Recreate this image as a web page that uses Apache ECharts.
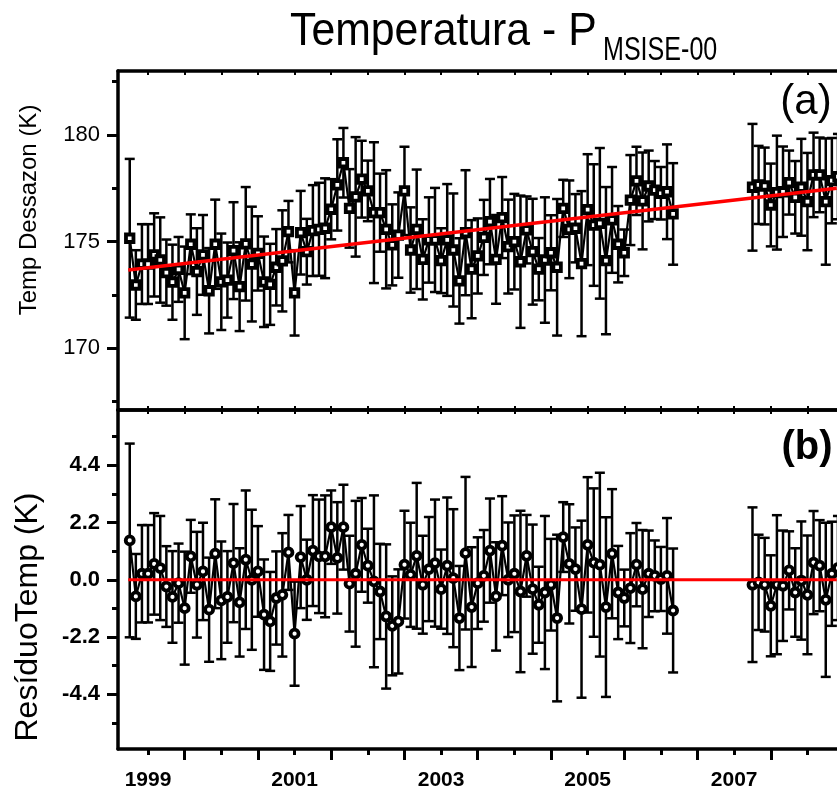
<!DOCTYPE html>
<html>
<head>
<meta charset="utf-8">
<title>Temperatura - P MSISE-00</title>
<script src="https://cdn.jsdelivr.net/npm/echarts@6/dist/echarts.min.js"></script>
<style>
  html, body { margin: 0; padding: 0; background: #fff; }
  #chart { width: 837px; height: 792px; }
</style>
</head>
<body>
<div id="chart"></div>
<script>
// meses com dado (o intervalo abr/2006 - mar/2007 não tem medida)
const months = [
  '1998-10', '1998-11', '1998-12',
  '1999-01', '1999-02', '1999-03', '1999-04', '1999-05', '1999-06', '1999-07', '1999-08', '1999-09', '1999-10', '1999-11', '1999-12',
  '2000-01', '2000-02', '2000-03', '2000-04', '2000-05', '2000-06', '2000-07', '2000-08', '2000-09', '2000-10', '2000-11', '2000-12',
  '2001-01', '2001-02', '2001-03', '2001-04', '2001-05', '2001-06', '2001-07', '2001-08', '2001-09', '2001-10', '2001-11', '2001-12',
  '2002-01', '2002-02', '2002-03', '2002-04', '2002-05', '2002-06', '2002-07', '2002-08', '2002-09', '2002-10', '2002-11', '2002-12',
  '2003-01', '2003-02', '2003-03', '2003-04', '2003-05', '2003-06', '2003-07', '2003-08', '2003-09', '2003-10', '2003-11', '2003-12',
  '2004-01', '2004-02', '2004-03', '2004-04', '2004-05', '2004-06', '2004-07', '2004-08', '2004-09', '2004-10', '2004-11', '2004-12',
  '2005-01', '2005-02', '2005-03', '2005-04', '2005-05', '2005-06', '2005-07', '2005-08', '2005-09', '2005-10', '2005-11', '2005-12',
  '2006-01', '2006-02', '2006-03',
  '2007-04', '2007-05', '2007-06', '2007-07', '2007-08', '2007-09', '2007-10', '2007-11', '2007-12',
  '2008-01', '2008-02', '2008-03', '2008-04', '2008-05', '2008-06'
];

// (a) temperatura dessazonalizada (K)
const tempDessazon = [
  175.16, 172.97, 173.95,
  173.95, 174.38, 174.14, 173.55, 173.10, 173.70, 172.60, 174.88, 173.60, 174.38, 172.70, 174.88,
  173.12, 173.20, 174.58, 172.89, 174.90, 173.95, 174.45, 173.12, 173.00, 173.80, 174.10, 175.47,
  172.60, 175.42, 174.53, 175.52, 175.58, 175.63, 176.52, 177.66, 178.70, 176.56, 177.10, 177.93,
  177.38, 176.36, 176.36, 175.58, 174.85, 175.31, 177.38, 174.61, 175.58, 174.17, 175.08, 175.08,
  174.11, 175.08, 174.61, 173.16, 175.42, 173.71, 174.33, 175.20, 175.94, 174.17, 176.13, 174.77,
  175.00, 174.06, 175.55, 174.53, 173.71, 174.14, 174.48, 173.80, 176.56, 175.58, 175.63, 173.97,
  176.50, 175.78, 175.86, 174.11, 176.02, 174.88, 174.48, 176.95, 177.85, 176.91, 177.61, 177.42,
  177.27, 177.34, 176.30,
  177.55, 177.66, 177.61, 176.72, 177.30, 177.34, 177.77, 177.08, 177.55,
  176.88, 178.13, 178.13, 176.88, 177.86, 178.05
];

// (b) resíduo (K)
const residuoTemp = [
  1.51, -0.64, 0.23,
  0.23, 0.61, 0.45, -0.26, -0.66, -0.13, -1.09, 0.90, -0.19, 0.32, -1.15, 1.00,
  -0.79, -0.66, 0.64, -0.87, 0.77, 0.00, 0.32, -1.34, -1.60, -0.70, -0.58, 1.05,
  -2.07, 0.87, 0.00, 1.12, 0.90, 0.90, 2.02, 0.84, 2.02, -0.15, 0.23, 1.34,
  0.54, -0.06, -0.45, -1.41, -1.77, -1.60, 0.58, 0.19, 0.92, -0.19, 0.41, 0.64,
  -0.36, 0.54, 0.06, -1.47, 1.02, -1.05, -0.13, 0.15, 1.12, -0.64, 1.31, 0.00,
  0.23, -0.45, 0.92, -0.36, -0.96, -0.49, -0.19, -1.47, 1.64, 0.61, 0.41, -1.13,
  1.34, 0.66, 0.58, -1.05, 1.00, -0.49, -0.70, -0.32, 0.58, -0.36, 0.23, 0.15,
  0.03, 0.15, -1.18,
  -0.19, -0.10, -0.19, -1.00, -0.19, -0.23, 0.36, -0.49, -0.03,
  -0.58, 0.66, 0.54, -0.77, 0.23, 0.45
];

// barra de erro (meia altura, K) - a mesma nos dois painéis
const erro = [
  3.72, 1.63, 1.87,
  1.87, 1.95, 2.00, 1.55, 1.76, 1.52, 2.17, 1.40, 2.03, 1.87, 2.00, 2.09,
  2.26, 1.76, 2.27, 2.08, 2.66, 2.69, 1.74, 2.12, 1.90, 1.79, 2.37, 1.44,
  2.00, 1.96, 1.54, 2.13, 2.18, 2.34, 1.41, 2.14, 1.63, 1.84, 2.80, 1.80,
  1.42, 3.30, 1.83, 2.77, 1.90, 2.00, 2.07, 2.00, 2.80, 1.88, 2.00, 2.44,
  1.52, 2.62, 2.65, 2.00, 2.93, 2.30, 1.76, 1.76, 2.00, 2.08, 1.90, 2.20,
  2.24, 3.10, 1.57, 2.48, 1.46, 2.94, 1.76, 3.20, 1.34, 2.29, 1.60, 3.40,
  2.60, 2.85, 3.53, 3.45, 2.48, 1.79, 1.09, 2.11, 1.60, 2.27, 1.66, 1.36,
  1.23, 2.22, 2.38,
  2.97, 1.83, 1.80, 1.94, 2.67, 2.12, 1.50, 1.70, 2.27,
  2.28, 1.98, 1.75, 2.96, 2.00, 2.00
];

// retas de ajuste (pontos das pontas)
const fitYears = [1998.73, 2008.40];
const fitTemp = [173.67, 177.50];
const fitResiduo = [0.0, 0.0];

// ticks / rótulos
const yearLabels = [1999, 2001, 2003, 2005, 2007];
const yearTicks = [1999, 2000, 2001, 2002, 2003, 2004, 2005, 2006, 2007, 2008];
const halfYearTicks = [1999.5, 2000.5, 2001.5, 2002.5, 2003.5, 2004.5, 2005.5, 2006.5, 2007.5, 2008.5];
const tempTicks = [170, 175, 180];
const tempMinorTicks = [167.5, 172.5, 177.5, 182.5];
const resTicks = [-4.4, -2.2, 0.0, 2.2, 4.4];
const resMinorTicks = [-5.5, -3.3, -1.1, 1.1, 3.3, 5.5];

const X_MIN = 1998.59, X_MAX = 2008.54;

function toYear(s) {
  const [y, m] = s.split('-').map(Number);
  return y + (m - 1) / 12;
}
const years = months.map(toYear);

// junta x/y e corta a linha onde falta mês
function lineData(vals) {
  const out = [];
  years.forEach((t, i) => {
    if (i > 0 && t - years[i - 1] > 0.1) out.push(['-', '-']);
    out.push([t, vals[i]]);
  });
  return out;
}
function errData(vals) {
  return years.map((t, i) => [t, vals[i] - erro[i], vals[i] + erro[i]]);
}

function renderErr(params, api) {
  const x = api.value(0);
  const lo = api.coord([x, api.value(1)]);
  const hi = api.coord([x, api.value(2)]);
  const w = 5;
  const st = { stroke: '#000', lineWidth: 2.5 };
  return {
    type: 'group',
    children: [
      { type: 'line', shape: { x1: lo[0], y1: lo[1], x2: hi[0], y2: hi[1] }, style: st },
      { type: 'line', shape: { x1: lo[0] - w, y1: lo[1], x2: lo[0] + w, y2: lo[1] }, style: st },
      { type: 'line', shape: { x1: hi[0] - w, y1: hi[1], x2: hi[0] + w, y2: hi[1] }, style: st }
    ]
  };
}

const FONT = '"Liberation Sans", Arial, sans-serif';
const axisLine = { onZero: false, lineStyle: { color: '#000', width: 3.5 } };

function innerX(gridIndex, position) {
  return {
    type: 'value', gridIndex, position, min: X_MIN, max: X_MAX,
    axisLine,
    axisTick: { inside: true, length: 4, customValues: yearTicks.concat(halfYearTicks), lineStyle: { color: '#000', width: 2 } },
    axisLabel: { show: false },
    splitLine: { show: false }
  };
}

const chart = echarts.init(document.getElementById('chart'), null, { renderer: 'canvas' });

const option = {
  animation: false,
  backgroundColor: '#fff',
  grid: [
    { left: 118, right: -10, top: 71, height: 339, outerBoundsMode: 'none' },
    { left: 118, right: -10, top: 410, height: 339, outerBoundsMode: 'none' }
  ],
  xAxis: [
    innerX(0, 'bottom'),
    innerX(0, 'top'),
    innerX(1, 'top'),
    {
      type: 'value', gridIndex: 1, position: 'bottom', min: X_MIN, max: X_MAX,
      axisLine,
      axisTick: { length: 11, customValues: halfYearTicks, lineStyle: { color: '#000', width: 3 } },
      axisLabel: {
        customValues: yearLabels, margin: 21, color: '#000',
        fontFamily: FONT, fontSize: 21, fontWeight: 'bold',
        formatter: v => String(v)
      },
      splitLine: { show: false }
    },
    {
      type: 'value', gridIndex: 1, position: 'bottom', min: X_MIN, max: X_MAX,
      axisLine: { show: false, onZero: false },
      axisTick: { length: 6, customValues: yearTicks, lineStyle: { color: '#000', width: 3 } },
      axisLabel: { show: false },
      splitLine: { show: false }
    }
  ],
  yAxis: [
    {
      type: 'value', gridIndex: 0, position: 'left', min: 167.11, max: 183.0,
      axisLine,
      axisTick: { length: 11, customValues: tempTicks, lineStyle: { color: '#000', width: 3 } },
      axisLabel: {
        customValues: tempTicks, margin: 18, color: '#000',
        fontFamily: FONT, fontSize: 22, formatter: v => String(v)
      },
      splitLine: { show: false }
    },
    {
      type: 'value', gridIndex: 0, position: 'left', min: 167.11, max: 183.0,
      axisLine: { show: false, onZero: false },
      axisTick: { length: 6, customValues: tempMinorTicks, lineStyle: { color: '#000', width: 3 } },
      axisLabel: { show: false },
      splitLine: { show: false }
    },
    {
      type: 'value', gridIndex: 1, position: 'left', min: -6.5, max: 6.52,
      axisLine,
      axisTick: { length: 11, customValues: resTicks, lineStyle: { color: '#000', width: 3 } },
      axisLabel: {
        customValues: resTicks, margin: 18, color: '#000',
        fontFamily: FONT, fontSize: 22, fontWeight: 'bold',
        formatter: v => v.toFixed(1)
      },
      splitLine: { show: false }
    },
    {
      type: 'value', gridIndex: 1, position: 'left', min: -6.5, max: 6.52,
      axisLine: { show: false, onZero: false },
      axisTick: { length: 6, customValues: resMinorTicks, lineStyle: { color: '#000', width: 3 } },
      axisLabel: { show: false },
      splitLine: { show: false }
    }
  ],
  series: [
    {
      type: 'custom', xAxisIndex: 0, yAxisIndex: 0, z: 2,
      renderItem: renderErr, data: errData(tempDessazon), encode: { x: 0, y: [1, 2] }
    },
    {
      type: 'line', xAxisIndex: 0, yAxisIndex: 0, z: 3,
      data: lineData(tempDessazon),
      symbol: 'rect', symbolSize: 7.5,
      itemStyle: { color: '#fff', borderColor: '#000', borderWidth: 3.8 },
      lineStyle: { color: '#000', width: 2.2 }
    },
    {
      type: 'line', xAxisIndex: 0, yAxisIndex: 0, z: 5,
      data: fitYears.map((t, i) => [t, fitTemp[i]]),
      symbol: 'none', lineStyle: { color: '#ff0000', width: 3.5 }
    },
    {
      type: 'custom', xAxisIndex: 3, yAxisIndex: 2, z: 2,
      renderItem: renderErr, data: errData(residuoTemp), encode: { x: 0, y: [1, 2] }
    },
    {
      type: 'line', xAxisIndex: 3, yAxisIndex: 2, z: 3,
      data: lineData(residuoTemp),
      symbol: 'circle', symbolSize: 8,
      itemStyle: { color: '#fff', borderColor: '#000', borderWidth: 3.8 },
      lineStyle: { color: '#000', width: 2.2 }
    },
    {
      type: 'line', xAxisIndex: 3, yAxisIndex: 2, z: 5,
      data: fitYears.map((t, i) => [t, fitResiduo[i]]),
      symbol: 'none', lineStyle: { color: '#ff0000', width: 3.2 }
    }
  ],
  graphic: [
    {
      type: 'text', x: 290, y: 32, scaleX: 0.93,
      style: { text: 'Temperatura - P', font: '46px ' + FONT, fill: '#000', textAlign: 'left', align: 'left', textVerticalAlign: 'middle', verticalAlign: 'middle' }
    },
    {
      type: 'text', x: 603, y: 51, scaleX: 0.76,
      style: { text: 'MSISE-00', font: '33px ' + FONT, fill: '#000', textAlign: 'left', align: 'left', textVerticalAlign: 'middle', verticalAlign: 'middle' }
    },
    {
      type: 'text', x: 29, y: 210, rotation: Math.PI / 2,
      style: { text: 'Temp Dessazon (K)', font: '24px ' + FONT, fill: '#000', textAlign: 'center', align: 'center', textVerticalAlign: 'middle', verticalAlign: 'middle' }
    },
    {
      type: 'text', x: 28, y: 617, rotation: Math.PI / 2,
      style: { text: 'ResíduoTemp (K)', font: '32px ' + FONT, fill: '#000', textAlign: 'center', align: 'center', textVerticalAlign: 'middle', verticalAlign: 'middle' }
    },
    {
      type: 'text', x: 806, y: 102,
      style: { text: '(a)', font: '42px ' + FONT, fill: '#000', textAlign: 'center', align: 'center', textVerticalAlign: 'middle', verticalAlign: 'middle' }
    },
    {
      type: 'text', x: 807, y: 448,
      style: { text: '(b)', font: 'bold 40px ' + FONT, fill: '#000', textAlign: 'center', align: 'center', textVerticalAlign: 'middle', verticalAlign: 'middle' }
    }
  ]
};

chart.setOption(option);
</script>
</body>
</html>
